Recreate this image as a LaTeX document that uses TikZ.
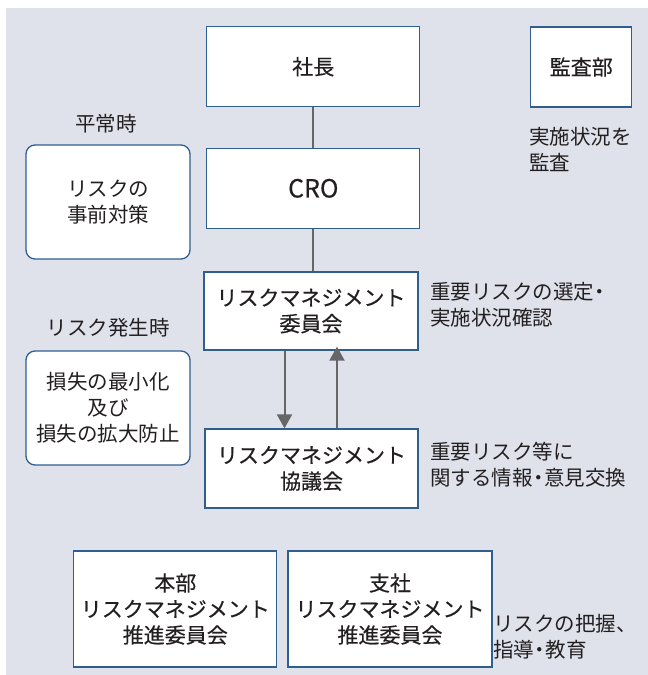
\documentclass[tikz,border=0pt]{standalone}
\usepackage{fontspec}
\setmainfont{Noto Sans CJK JP}
\newfontfamily\boxfont[FakeBold=0.4]{Noto Sans CJK JP}
\usetikzlibrary{arrows.meta}
\definecolor{bg}{HTML}{DFE2EB}
\definecolor{edge}{HTML}{2F5F8F}
\definecolor{conn}{HTML}{666666}
\definecolor{txt}{HTML}{231F20}
\newcommand{\ndot}{\kern-4.5pt・\kern-4.5pt}
\begin{document}
\begin{tikzpicture}[x=1pt,y=-1pt,
  every node/.style={font=\fontsize{20.5}{26}\selectfont, text=txt, inner sep=0pt},
  box/.style={draw=edge, line width=1.3pt, fill=white, align=center, font=\boxfont\fontsize{21}{26}\selectfont},
  rbox/.style={draw=edge, line width=1.3pt, fill=white, align=center, rounded corners=9pt, font=\fontsize{20.5}{26}\selectfont},
  lbl/.style={align=left, anchor=west},
  link/.style={draw=conn, line width=2pt},
  arr/.style={link, -{Triangle[width=15pt,length=14pt]}}]
\useasboundingbox (0,0) rectangle (648,675);
\fill[bg] (6,8) rectangle (648,675);
\node[box, minimum width=213pt, minimum height=80pt] (pres) at (313.3,66.7) {社長};
\node[box, minimum width=213pt, minimum height=80pt, font=\boxfont\fontsize{25}{26}\selectfont] (cro) at (313.3,188.3) {CRO};
\node[box, minimum width=101pt, minimum height=80pt] (audit) at (581.3,67) {監査部};
\node[lbl, anchor=west] (audtxt) at (529,149) {実施状況を\\監査};
\node (normal) at (106,124) {平常時};
\node[rbox, minimum width=164pt, minimum height=114pt] (prev) at (108,202) {リスクの\\事前対策};
\node (occur) at (108,328) {リスク発生時};
\node[rbox, minimum width=164pt, minimum height=114pt] (loss) at (108,408) {損失の最小化\\及び\\損失の拡大防止};
\node[box, minimum width=214pt, minimum height=78pt] (com) at (311,311) {リスクマネジメント\\委員会};
\node[box, minimum width=213pt, minimum height=79pt] (kyo) at (311.5,468.5) {リスクマネジメント\\協議会};
\node[lbl] (comtxt) at (430,305) {重要リスクの選定\ndot\\実施状況確認};
\node[lbl] (kyotxt) at (430,465) {重要リスク等に\\関する情報\ndot 意見交換};
\node[box, minimum width=203pt, minimum height=116pt] (hq) at (175.3,609) {本部\\リスクマネジメント\\推進委員会};
\node[box, minimum width=204pt, minimum height=116pt] (br) at (390,609) {支社\\リスクマネジメント\\推進委員会};
\node[lbl] (brtxt) at (493,637) {リスクの把握、\\指導\ndot 教育};
\draw[link] (pres.south) -- (cro.north);
\draw[link] (cro.south) -- (cro.south |- com.north);
\coordinate (d1) at (284.5,0);
\coordinate (u1) at (337,0);
\draw[arr] (d1 |- com.south) -- (d1 |- kyo.north);
\draw[arr] (u1 |- kyo.north) -- ([yshift=4pt]u1 |- com.south);
\end{tikzpicture}
\end{document}
